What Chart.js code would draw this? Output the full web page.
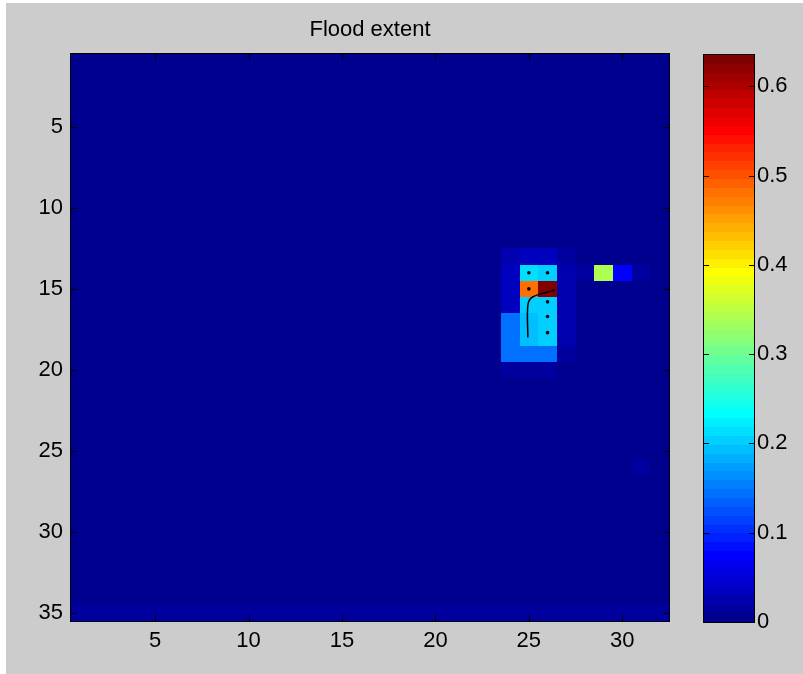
<!DOCTYPE html>
<html>
<head>
<meta charset="utf-8">
<script src="https://cdn.jsdelivr.net/npm/chart.js@4.4.1/dist/chart.umd.min.js"></script>
<style>
html,body{margin:0;padding:0;background:#ffffff;width:803px;height:674px;overflow:hidden;}
#fig{position:absolute;left:6px;top:3px;width:797px;height:671px;background:#cccccc;}
#mainWrap{position:absolute;left:0;top:0;width:690px;height:674px;}
#cbWrap{position:absolute;left:690px;top:0;width:113px;height:674px;}
canvas{display:block;}
</style>
</head>
<body>
<div id="fig"></div>
<div id="mainWrap"><canvas id="main" width="690" height="674"></canvas></div>
<div id="cbWrap"><canvas id="cb" width="113" height="674"></canvas></div>
<script>
// ---------------- data ----------------
const chartTitle = 'Flood extent';
const nCols = 32;
const nRows = 35;
const xTicks = [5, 10, 15, 20, 25, 30];
const yTicks = [5, 10, 15, 20, 25, 30, 35];
const cbTicks = [0, 0.1, 0.2, 0.3, 0.4, 0.5, 0.6];
const depthMax = 0.635;

// wet cells (column, row, depth); all other cells are dry (0)
const wetCol   = [24, 25, 26, 27,   24, 25, 26, 27, 28, 29, 30, 31,   24, 25, 26, 27,   24, 25, 26, 27,   24, 25, 26, 27,   24, 25, 26, 27,   24, 25, 26, 27,   24, 25, 26,   31];
const wetRow   = [13, 13, 13, 13,   14, 14, 14, 14, 14, 14, 14, 14,   15, 15, 15, 15,   16, 16, 16, 16,   17, 17, 17, 17,   18, 18, 18, 18,   19, 19, 19, 19,   20, 20, 20,   26];
const wetDepth = [0.02, 0.03, 0.03, 0.015,
                  0.035, 0.21, 0.20, 0.025, 0.012, 0.34, 0.07, 0.015,
                  0.035, 0.48, 0.63, 0.025,
                  0.035, 0.20, 0.20, 0.025,
                  0.14, 0.19, 0.20, 0.02,
                  0.14, 0.19, 0.20, 0.02,
                  0.14, 0.14, 0.14, 0.015,
                  0.012, 0.012, 0.012,
                  0.012];
// bottom row (row 35) shallow depths
const lastRowDepth = [0.012,0.012,0.012,0.012,0.012,0.012,0.012,0.012,0.012,0.012,0.012,0.012,0.012,0.012,0.012,0.012,
                      0.012,0.012,0.012,0.012,0.012,0.012,0.012,0.012,0.012,0.012,0.012,0.012,0.012,0.012,0.012,0.012];
// flow path overlay
const pathCol = [26.4, 25.2, 24.95, 24.95];
const pathRow = [15.07, 15.5, 16.0, 18.0];
const dotCol = [25, 26, 25, 26, 26, 26];
const dotRow = [14, 14, 15, 15.8, 16.7, 17.7];

// ---------------- colormap (MATLAB jet, 64) ----------------
function makeJet(m){
  const n = Math.ceil(m / 4);
  const u = [];
  for (let k = 1; k <= n; k++) u.push(k / n);
  for (let k = 1; k < n; k++) u.push(1);
  for (let k = n; k >= 1; k--) u.push(k / n);
  const off = Math.ceil(n / 2) - (m % 4 === 1 ? 1 : 0);
  const map = [];
  for (let i = 0; i < m; i++) map.push([0, 0, 0]);
  for (let k = 0; k < u.length; k++) {
    const g = off + k + 1, r = g + n, b = g - n;
    if (g >= 1 && g <= m) map[g - 1][1] = u[k];
    if (r >= 1 && r <= m) map[r - 1][0] = u[k];
    if (b >= 1 && b <= m) map[b - 1][2] = u[k];
  }
  return map.map(c => 'rgb(' + Math.round(c[0]*255) + ',' + Math.round(c[1]*255) + ',' + Math.round(c[2]*255) + ')');
}
const jet = makeJet(64);
function colorFor(v){
  let i = Math.floor(v / depthMax * 64);
  if (i < 0) i = 0; if (i > 63) i = 63;
  return jet[i];
}

// grid built from the arrays
const grid = [];
for (let r = 0; r < nRows; r++) { const row = []; for (let c = 0; c < nCols; c++) row.push(0); grid.push(row); }
for (let c = 0; c < nCols; c++) grid[nRows - 1][c] = lastRowDepth[c];
for (let i = 0; i < wetCol.length; i++) grid[wetRow[i] - 1][wetCol[i] - 1] = wetDepth[i];

const FONT = 'Liberation Sans, Arial, Helvetica, sans-serif';
const TICKFONT = {family: FONT, size: 22};
const TL = 6;

// ---------------- main heatmap ----------------
const heatPlugin = {
  id: 'heat',
  beforeDatasetsDraw(chart){
    const {ctx} = chart; const x = chart.scales.x, y = chart.scales.y;
    ctx.save();
    for (let r = 1; r <= nRows; r++) {
      for (let c = 1; c <= nCols; c++) {
        const xa = Math.round(x.getPixelForValue(c - 0.5)), xb = Math.round(x.getPixelForValue(c + 0.5));
        const ya = Math.round(y.getPixelForValue(r - 0.5)), yb = Math.round(y.getPixelForValue(r + 0.5));
        ctx.fillStyle = colorFor(grid[r - 1][c - 1]);
        ctx.fillRect(Math.min(xa, xb), Math.min(ya, yb), Math.abs(xb - xa), Math.abs(yb - ya));
      }
    }
    ctx.restore();
  },
  afterDatasetsDraw(chart){
    const {ctx, chartArea: a} = chart; const x = chart.scales.x, y = chart.scales.y;
    ctx.save();
    ctx.strokeStyle = '#000'; ctx.lineWidth = 1;
    ctx.beginPath();
    xTicks.forEach(v => { const p = Math.round(x.getPixelForValue(v)) + 0.5;
      ctx.moveTo(p, a.bottom); ctx.lineTo(p, a.bottom - TL);
      ctx.moveTo(p, a.top); ctx.lineTo(p, a.top + TL); });
    yTicks.forEach(v => { const p = Math.round(y.getPixelForValue(v)) + 0.5;
      ctx.moveTo(a.left, p); ctx.lineTo(a.left + TL, p);
      ctx.moveTo(a.right, p); ctx.lineTo(a.right - TL, p); });
    ctx.stroke();
    ctx.strokeRect(Math.round(a.left) - 0.5, Math.round(a.top) - 0.5, Math.round(a.right - a.left) + 1, Math.round(a.bottom - a.top) + 1);
    ctx.restore();
  }
};

new Chart(document.getElementById('main'), {
  type: 'scatter',
  data: {
    datasets: [
      { type: 'line', data: pathCol.map((c, i) => ({x: c, y: pathRow[i]})), borderColor: '#000', borderWidth: 1.5,
        pointRadius: 0, tension: 0.35, fill: false },
      { type: 'scatter', data: dotCol.map((c, i) => ({x: c, y: dotRow[i]})), backgroundColor: '#000', borderWidth: 0,
        pointRadius: 1.8 }
    ]
  },
  options: {
    responsive: false, animation: false, events: [],
    layout: { padding: { left: 0, right: 21, top: 0, bottom: 0 } },
    plugins: {
      legend: { display: false }, tooltip: { enabled: false },
      title: { display: true, text: chartTitle, color: '#000', fullSize: false,
               font: { family: FONT, size: 22, weight: 'normal', lineHeight: 1.2 },
               padding: { top: 17, bottom: 10.6 } }
    },
    scales: {
      x: { type: 'linear', min: 0.5, max: nCols + 0.5, position: 'bottom',
           grid: { display: false, drawTicks: false }, border: { display: false },
           ticks: { color: '#000', font: TICKFONT, padding: 7, autoSkip: false, maxRotation: 0 },
           afterBuildTicks: s => { s.ticks = xTicks.map(v => ({value: v})); },
           afterFit: s => { s.height = 53; } },
      y: { type: 'linear', min: 0.5, max: nRows + 0.5, reverse: true,
           grid: { display: false, drawTicks: false }, border: { display: false },
           ticks: { color: '#000', font: TICKFONT, padding: 8, autoSkip: false },
           afterBuildTicks: s => { s.ticks = yTicks.map(v => ({value: v})); },
           afterFit: s => { s.width = 71; } }
    }
  },
  plugins: [heatPlugin]
});

// ---------------- colorbar ----------------
const cbPlugin = {
  id: 'cbar',
  beforeDatasetsDraw(chart){
    const {ctx, chartArea: a} = chart; const y = chart.scales.y;
    ctx.save();
    for (let i = 0; i < 64; i++) {
      const ya = Math.round(y.getPixelForValue(i / 64 * depthMax));
      const yb = Math.round(y.getPixelForValue((i + 1) / 64 * depthMax));
      ctx.fillStyle = jet[i];
      ctx.fillRect(a.left, yb, a.right - a.left, ya - yb);
    }
    ctx.strokeStyle = '#000'; ctx.lineWidth = 1;
    ctx.beginPath();
    cbTicks.forEach(v => { const p = Math.round(y.getPixelForValue(v)) + 0.5;
      ctx.moveTo(a.left, p); ctx.lineTo(a.left + 5, p);
      ctx.moveTo(a.right, p); ctx.lineTo(a.right - 5, p); });
    ctx.stroke();
    ctx.strokeRect(Math.round(a.left) - 0.5, Math.round(a.top) - 0.5, Math.round(a.right - a.left) + 1, Math.round(a.bottom - a.top) + 1);
    ctx.restore();
  }
};

new Chart(document.getElementById('cb'), {
  type: 'scatter',
  data: { datasets: [{ data: [] }] },
  options: {
    responsive: false, animation: false, events: [],
    layout: { padding: { left: 14, right: 0, top: 55, bottom: 52 } },
    plugins: { legend: { display: false }, tooltip: { enabled: false }, title: { display: false } },
    scales: {
      x: { type: 'linear', display: false, min: 0, max: 1 },
      y: { type: 'linear', position: 'right', min: 0, max: depthMax,
           grid: { display: false, drawTicks: false }, border: { display: false },
           ticks: { color: '#000', font: TICKFONT, padding: 3, autoSkip: false,
                    callback: v => (v === 0 ? '0' : v.toFixed(1)) },
           afterBuildTicks: s => { s.ticks = cbTicks.map(v => ({value: v})); },
           afterFit: s => { s.width = 49; } }
    }
  },
  plugins: [cbPlugin]
});
</script>
</body>
</html>
